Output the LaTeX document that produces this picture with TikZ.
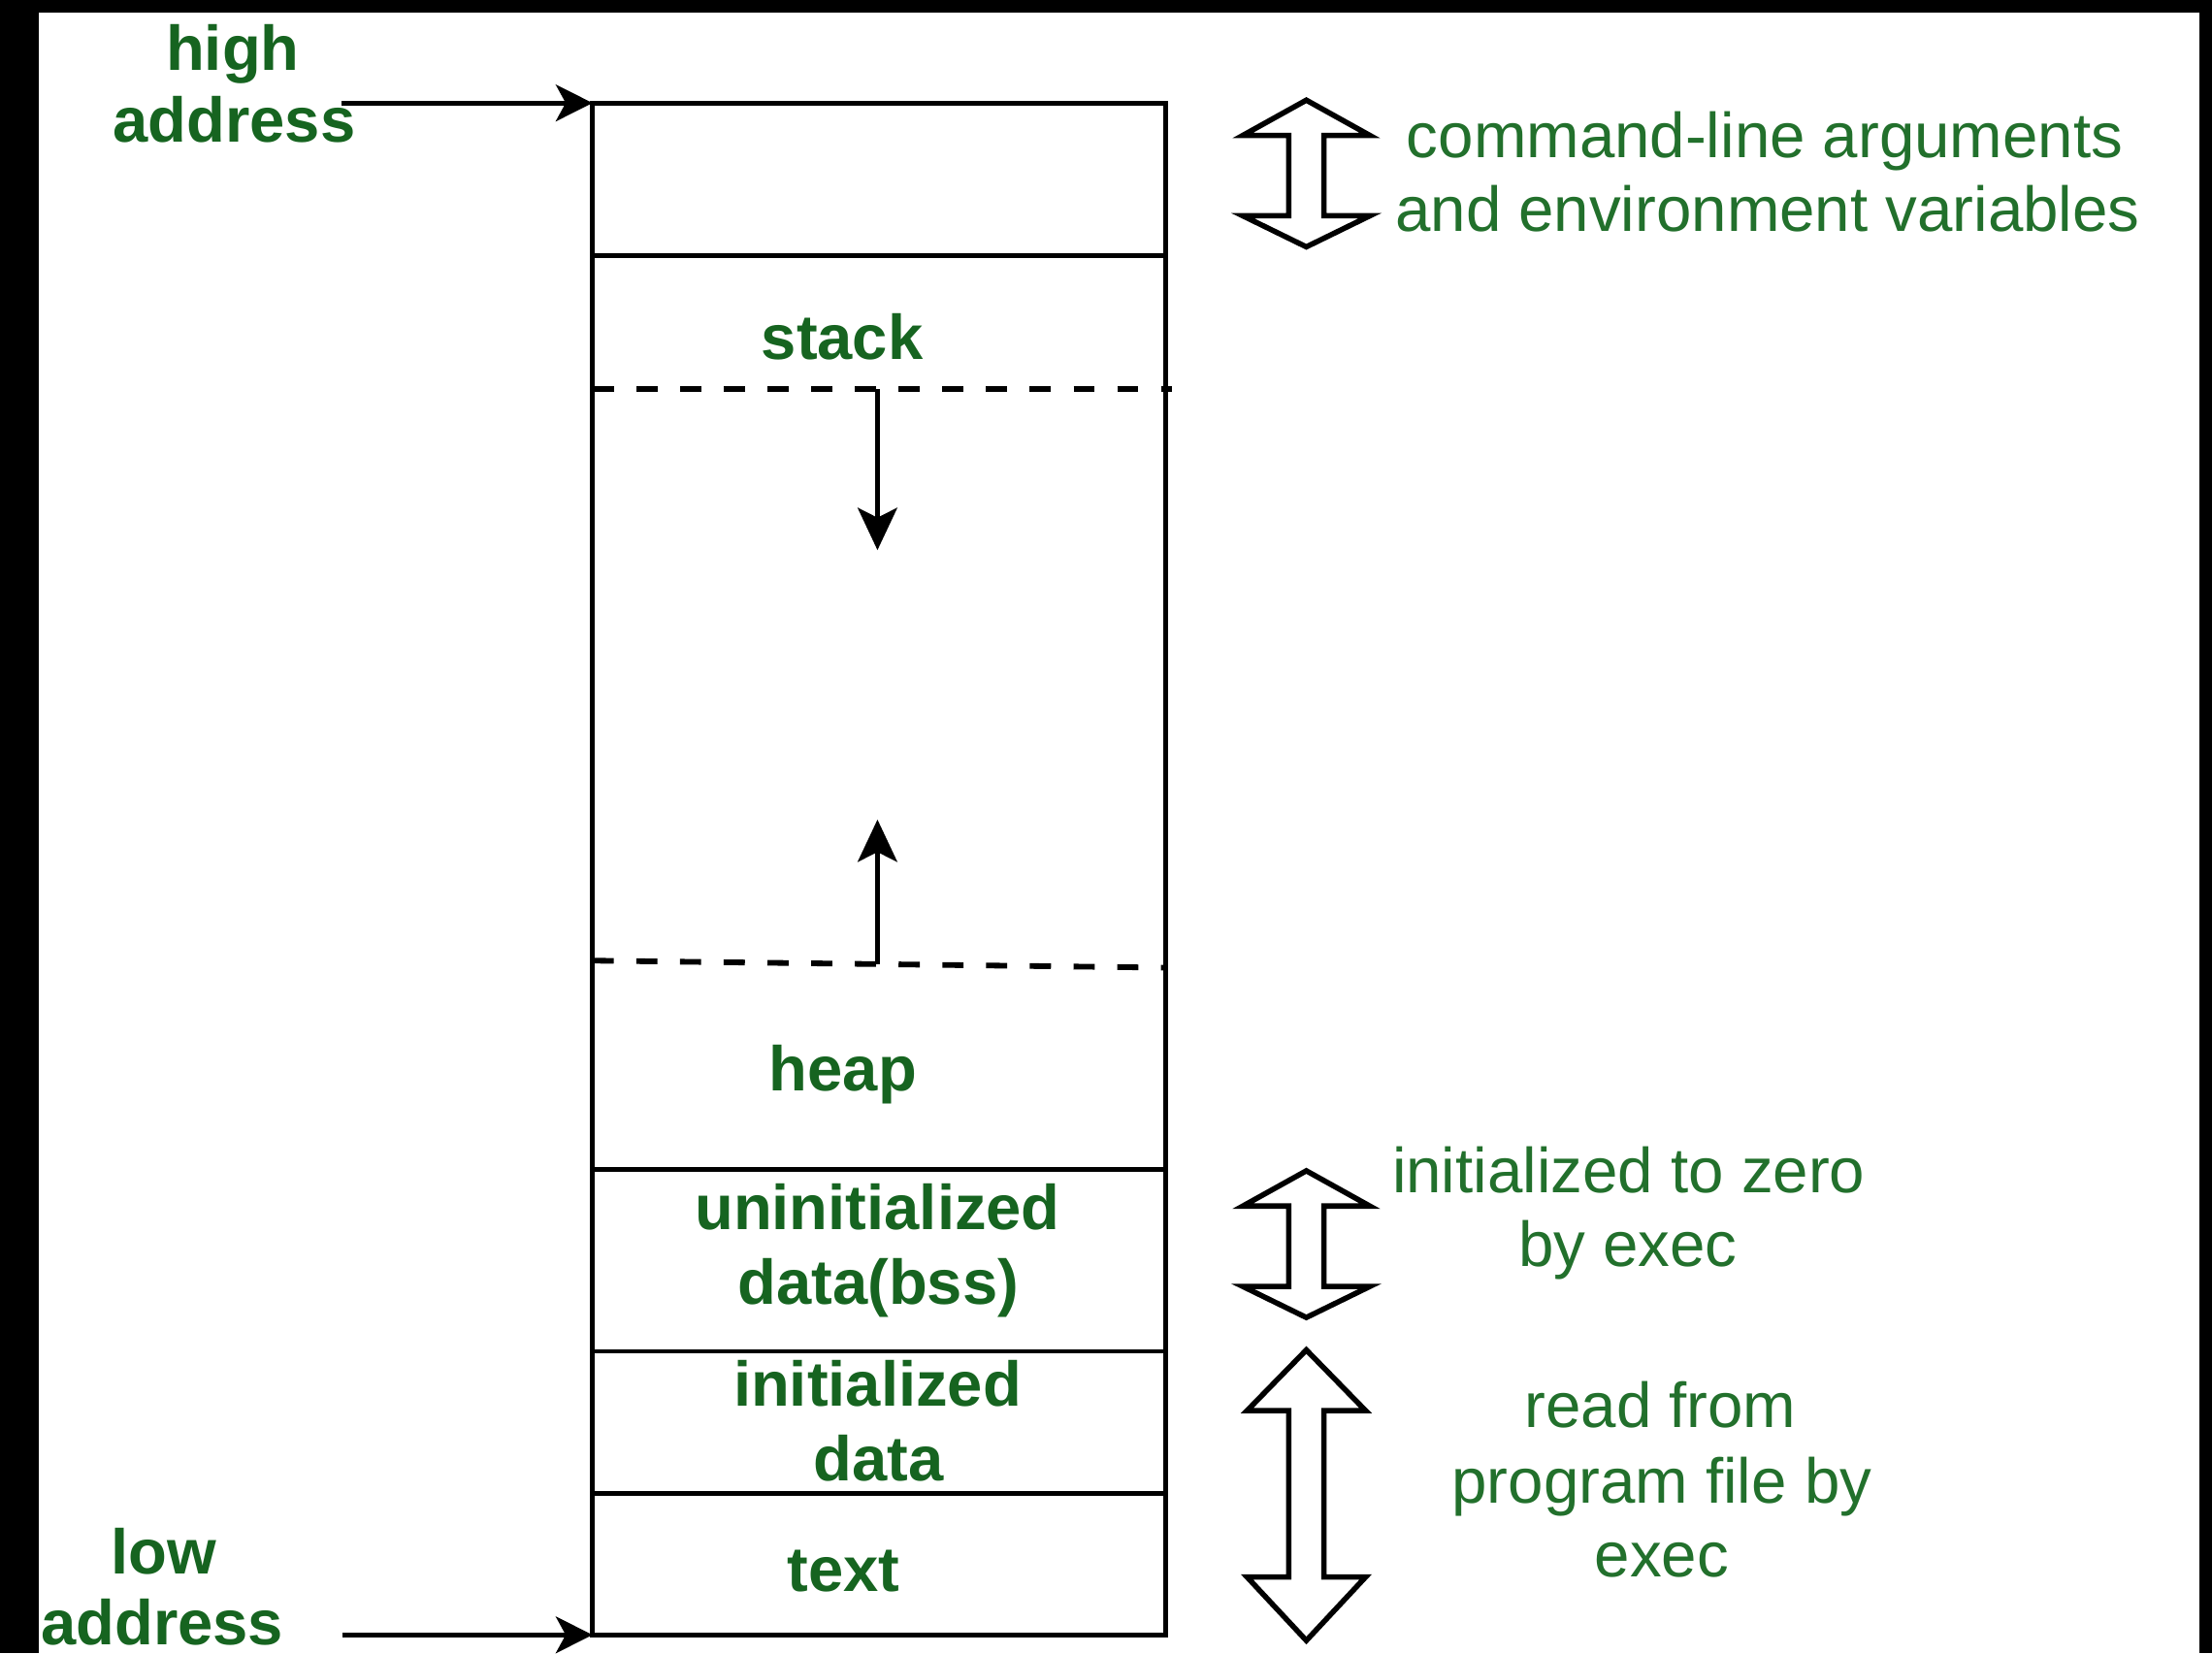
\documentclass[tikz,border=0pt]{standalone}
\usepackage{fontspec}
\setmainfont{Liberation Sans}
\usetikzlibrary{arrows.meta}
\definecolor{lblgreen}{RGB}{22,100,32}
\definecolor{txtgreen}{RGB}{34,112,44}
\newcommand\hollowarr[6]{%
  \draw[hollow] ({#1-12.5},#3) -- ({#1-#6},#3) -- (#1,#2) -- ({#1+#6},#3) -- ({#1+12.5},#3)
    -- ({#1+12.5},#4) -- ({#1+#6},#4) -- (#1,#5) -- ({#1-#6},#4) -- ({#1-12.5},#4) -- cycle;}
\begin{document}
\begin{tikzpicture}[x=0.5pt,y=-0.5pt,
  cell/.style={draw=black, line width=1.7pt, inner sep=0pt, outer sep=0pt,
    minimum width=203pt, anchor=north west},
  lbl/.style={text=lblgreen, font=\fontsize{22.4}{26}\selectfont\bfseries, inner sep=0pt, anchor=base},
  txt/.style={text=txtgreen, font=\fontsize{22.5}{26}\selectfont, inner sep=0pt, anchor=base},
  ptr/.style={line width=1.7pt, -{Stealth[length=13pt, width=13pt, inset=3.5pt]}},
  growarrow/.style={line width=1.6pt, -{Stealth[length=15pt, width=14pt, inset=3.5pt]}},
  dashline/.style={line width=2pt, dash pattern=on 7.5pt off 8pt},
  hollow/.style={draw=black, fill=white, line width=1.9pt, line join=miter}]
\useasboundingbox (0,0) rectangle (1568,1172);
\fill[black] (0,0) rectangle (1568,1172);
\fill[white] (27.5,9) rectangle (1559,1180);

% memory cells
\node[cell, minimum height=54pt] (cellA) at (420,73) {};
\node[cell, minimum height=324pt] (cellB) at (420,181) {};
\node[cell, minimum height=64.5pt] (cellC) at (420,829) {};
\node[cell, minimum height=50.5pt] (cellD) at (420,958) {};
\node[cell, minimum height=50pt] (cellE) at (420,1059) {};

% dashed boundaries
\coordinate (dsL) at (420,276);
\coordinate (dsR) at (831,276);
\coordinate (dhL) at (420,681);
\coordinate (dhR) at (826,686);
\draw[dashline] (dsL) -- (dsR);
\draw[dashline] (dhL) -- (dhR);

% growth arrows
\coordinate (sA) at (622,276);
\coordinate (sB) at (622,390);
\coordinate (hA) at (622,683.5);
\coordinate (hB) at (622,581);
\draw[growarrow] (sA) -- (sB);
\draw[growarrow] (hA) -- (hB);

% labels inside
\node[lbl] (stack) at (597,254.5) {stack};
\node[lbl] (heap) at (597.5,773) {heap};
\node[lbl] (bss1) at (622,871.5) {uninitialized};
\node[lbl] (bss2) at (622.5,924.5) {data(bss)};
\node[lbl] (init1) at (622,996.7) {initialized};
\node[lbl] (init2) at (622.6,1049.6) {data};
\node[lbl] (textl) at (598,1128) {text};

% address labels
\node[lbl] (high1) at (165,50) {high};
\node[lbl] (high2) at (166,101) {address};
\node[lbl] (low1) at (116,1115.6) {low};
\node[lbl] (low2) at (115,1166) {address};
\coordinate (hiS) at (242,73);
\coordinate (loS) at (242.5,1159);
\draw[ptr] (hiS) -- (cellA.north west);
\draw[ptr] (loS) -- (cellE.south west);

% hollow double arrows
\hollowarr{926}{71}{96}{153}{175}{45}
\hollowarr{926}{830}{855}{912}{934}{45}
\hollowarr{926}{957}{1000}{1118}{1163}{42}

% side texts
\node[txt] (cmd1) at (1251,112) {command-line arguments};
\node[txt] (cmd2) at (1253,164) {and environment variables};
\node[txt] (zero1) at (1154.5,845.6) {initialized to zero};
\node[txt] (zero2) at (1154,898) {by exec};
\node[txt] (prog1) at (1177,1012) {read from};
\node[txt] (prog2) at (1178,1065.5) {program file by};
\node[txt] (prog3) at (1178,1117.6) {exec};
\end{tikzpicture}
\end{document}
